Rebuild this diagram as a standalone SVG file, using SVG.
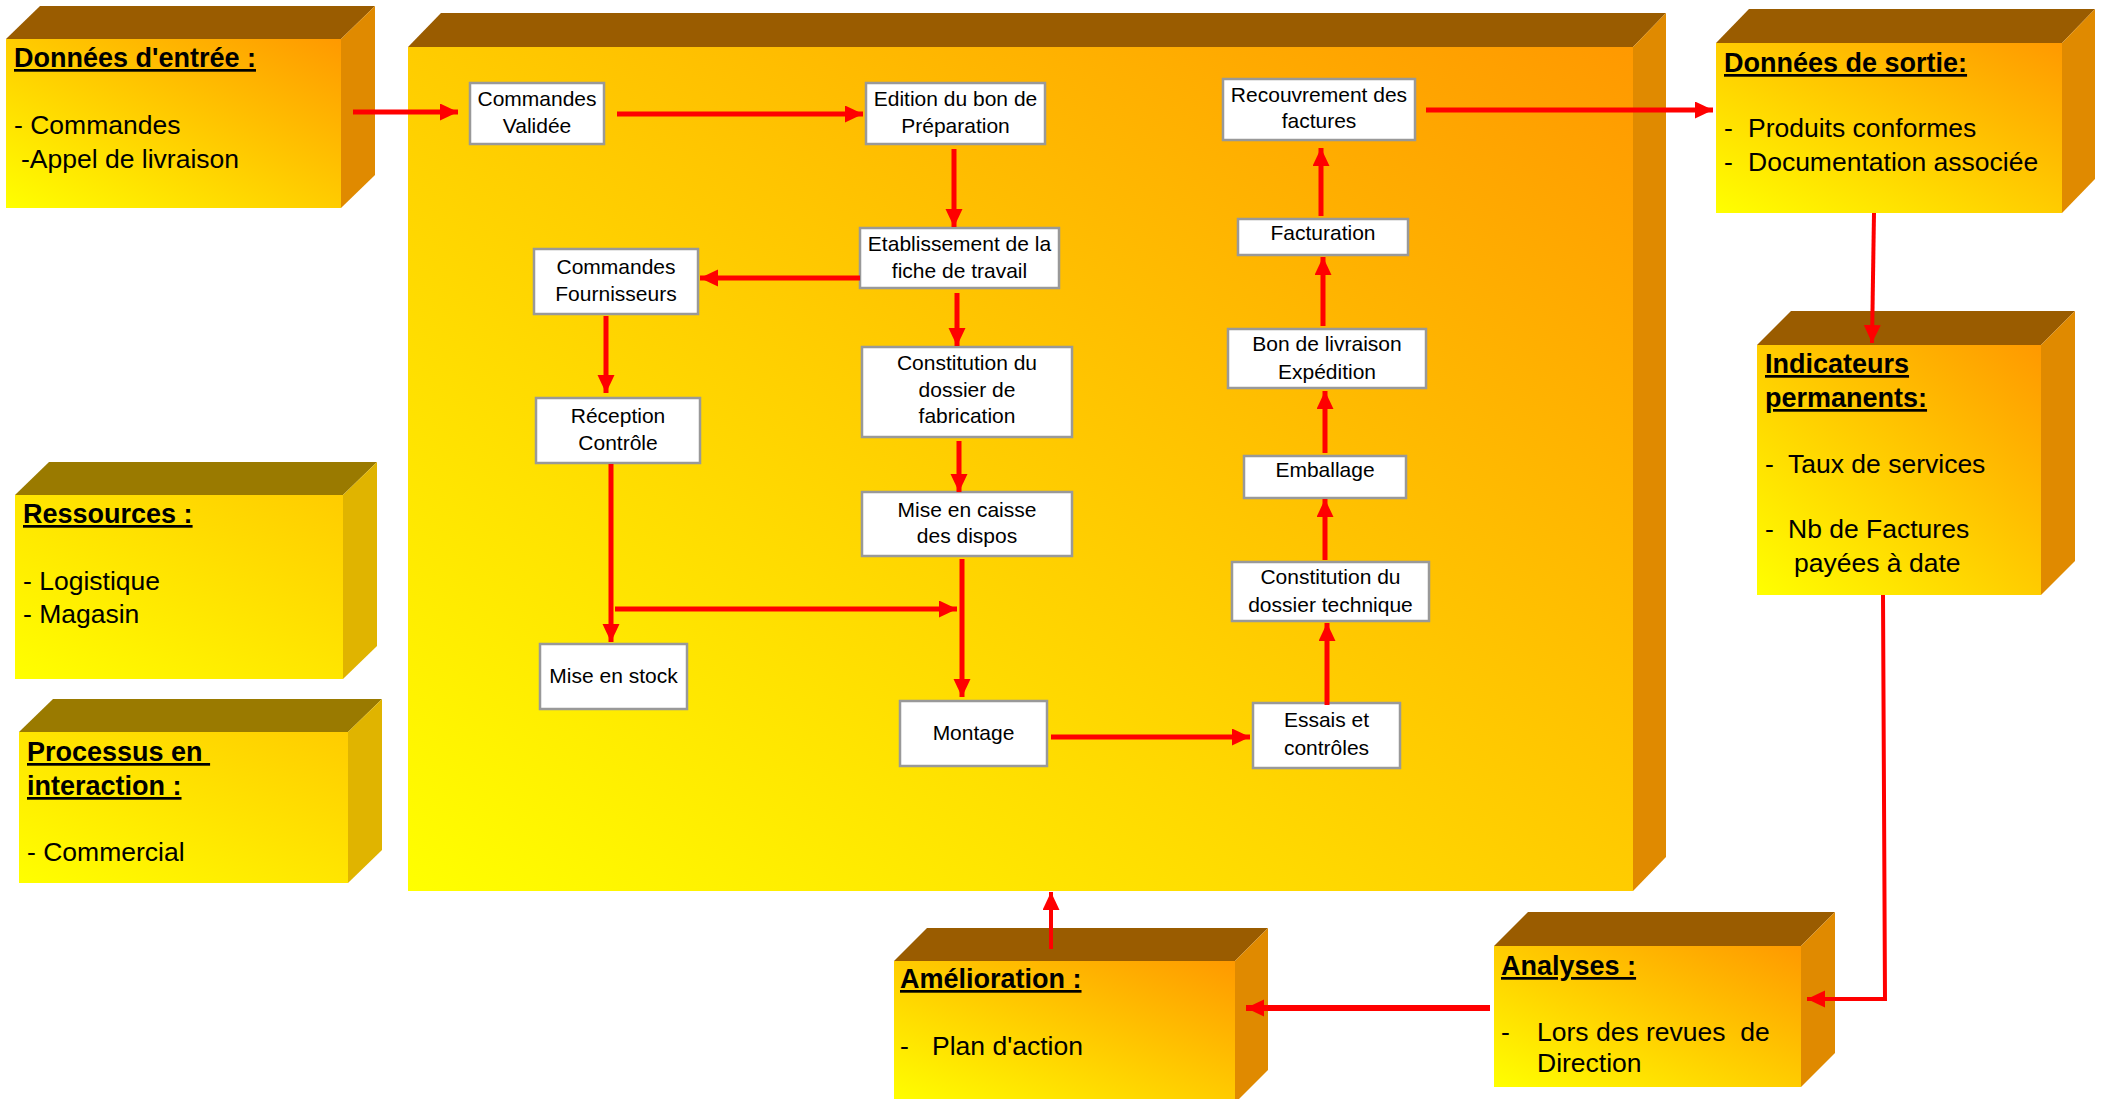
<svg xmlns="http://www.w3.org/2000/svg" width="2102" height="1099" viewBox="0 0 2102 1099">
<defs>
<linearGradient id="gO" x1="0" y1="1" x2="1" y2="0"><stop offset="0" stop-color="#FFFF00"/><stop offset="0.5" stop-color="#FFCC00"/><stop offset="1" stop-color="#FF9900"/></linearGradient>
<linearGradient id="gY" x1="0" y1="1" x2="1" y2="0"><stop offset="0" stop-color="#FFFF00"/><stop offset="1" stop-color="#FFCC00"/></linearGradient>
<marker id="ah" markerUnits="userSpaceOnUse" markerWidth="18" markerHeight="18" refX="18" refY="8.5" orient="auto"><path d="M0,0 L18,8.5 L0,17 z" fill="#FF0000"/></marker>
</defs>
<style>
.topO{fill:#9A5C00}.sideO{fill:#E08A00}.frontO{fill:url(#gO)}
.topY{fill:#9A7A00}.sideY{fill:#E0B400}.frontY{fill:url(#gY)}
.t{font-family:"Liberation Sans",Arial,sans-serif;font-size:26.5px;fill:#000}
.h{font-weight:bold;text-decoration:underline;font-size:27px}
.nb{fill:#fff;stroke:#999;stroke-width:2.5}
.nt{font-family:"Liberation Sans",Arial,sans-serif;font-size:21px;fill:#000;text-anchor:middle}
.c{fill:none;stroke:#FF0000;stroke-width:5;marker-end:url(#ah)}
</style>

<g id="main-process">
<polygon class="topO" points="408,47 441,13 1666,13 1633,47"/>
<polygon class="sideO" points="1633,47 1666,13 1666,857 1633,891"/>
<rect class="frontO" x="408" y="47" width="1225" height="844"/>
</g>

<g id="donnees-entree">
<polygon class="topO" points="6,39 40,6 375,6 341,39"/>
<polygon class="sideO" points="341,39 375,6 375,175 341,208"/>
<rect class="frontO" x="6" y="39" width="335" height="169"/>
<text class="t h" x="14" y="67">Données d'entrée :</text>
<text class="t" x="14" y="134">- Commandes</text>
<text class="t" x="21" y="168">-Appel de livraison</text>
</g>

<g id="donnees-sortie">
<polygon class="topO" points="1716,43 1749,9 2095,9 2062,43"/>
<polygon class="sideO" points="2062,43 2095,9 2095,179 2062,213"/>
<rect class="frontO" x="1716" y="43" width="346" height="170"/>
<text class="t h" x="1724" y="72">Données de sortie:</text>
<text class="t" x="1724" y="137">-<tspan x="1748">Produits conformes</tspan></text>
<text class="t" x="1724" y="171">-<tspan x="1748">Documentation associée</tspan></text>
</g>

<g id="indicateurs">
<polygon class="topO" points="1757,345 1791,311 2075,311 2041,345"/>
<polygon class="sideO" points="2041,345 2075,311 2075,561 2041,595"/>
<rect class="frontO" x="1757" y="345" width="284" height="250"/>
<text class="t h" x="1765" y="373">Indicateurs </text>
<text class="t h" x="1765" y="407">permanents:</text>
<text class="t" x="1765" y="473">-<tspan x="1788">Taux de services</tspan></text>
<text class="t" x="1765" y="538">-<tspan x="1788">Nb de Factures</tspan></text>
<text class="t" x="1794" y="572">payées à date</text>
</g>

<g id="ressources">
<polygon class="topY" points="15,495 49,462 377,462 343,495"/>
<polygon class="sideY" points="343,495 377,462 377,646 343,679"/>
<rect class="frontY" x="15" y="495" width="328" height="184"/>
<text class="t h" x="23" y="523">Ressources :</text>
<text class="t" x="23" y="590">- Logistique</text>
<text class="t" x="23" y="623">- Magasin</text>
</g>

<g id="processus-interaction">
<polygon class="topY" points="19,732 53,699 382,699 348,732"/>
<polygon class="sideY" points="348,732 382,699 382,850 348,883"/>
<rect class="frontY" x="19" y="732" width="329" height="151"/>
<text class="t h" x="27" y="761" xml:space="preserve">Processus en </text>
<text class="t h" x="27" y="795">interaction :</text>
<text class="t" x="27" y="861">- Commercial</text>
</g>

<g id="amelioration">
<polygon class="topO" points="894,961 927,928 1268,928 1235,961"/>
<polygon class="sideO" points="1235,961 1268,928 1268,1070 1235,1103"/>
<rect class="frontO" x="894" y="961" width="341" height="142"/>
<text class="t h" x="900" y="988">Amélioration :</text>
<text class="t" x="900" y="1055">-<tspan x="932">Plan d'action</tspan></text>
</g>

<g id="analyses">
<polygon class="topO" points="1494,946 1528,912 1835,912 1801,946"/>
<polygon class="sideO" points="1801,946 1835,912 1835,1053 1801,1087"/>
<rect class="frontO" x="1494" y="946" width="307" height="141"/>
<text class="t h" x="1501" y="975">Analyses :</text>
<text class="t" x="1501" y="1041" xml:space="preserve">-<tspan x="1537">Lors des revues  de</tspan></text>
<text class="t" x="1537" y="1072">Direction</text>
</g>

<g id="n-commandes-validee"><rect class="nb" x="470" y="83" width="134" height="61"/><text class="nt" x="537" y="106">Commandes</text><text class="nt" x="537" y="133">Validée</text></g>
<g id="n-edition"><rect class="nb" x="866" y="83" width="179" height="61"/><text class="nt" x="955.5" y="106">Edition du bon de</text><text class="nt" x="955.5" y="133">Préparation</text></g>
<g id="n-etablissement"><rect class="nb" x="860" y="228" width="199" height="60"/><text class="nt" x="959.5" y="251">Etablissement de la</text><text class="nt" x="959.5" y="278">fiche de travail</text></g>
<g id="n-commandes-fournisseurs"><rect class="nb" x="534" y="249" width="164" height="65"/><text class="nt" x="616" y="274">Commandes</text><text class="nt" x="616" y="301">Fournisseurs</text></g>
<g id="n-reception"><rect class="nb" x="536" y="398" width="164" height="65"/><text class="nt" x="618" y="423">Réception</text><text class="nt" x="618" y="450">Contrôle</text></g>
<g id="n-constitution-fabrication"><rect class="nb" x="862" y="347" width="210" height="90"/><text class="nt" x="967" y="370">Constitution du</text><text class="nt" x="967" y="397">dossier de</text><text class="nt" x="967" y="423">fabrication</text></g>
<g id="n-mise-en-caisse"><rect class="nb" x="862" y="492" width="210" height="64"/><text class="nt" x="967" y="517">Mise en caisse</text><text class="nt" x="967" y="543">des dispos</text></g>
<g id="n-mise-en-stock"><rect class="nb" x="540" y="644" width="147" height="65"/><text class="nt" x="613.5" y="683">Mise en stock</text></g>
<g id="n-montage"><rect class="nb" x="900" y="701" width="147" height="65"/><text class="nt" x="973.5" y="740">Montage</text></g>
<g id="n-recouvrement"><rect class="nb" x="1223" y="79" width="192" height="61"/><text class="nt" x="1319" y="102">Recouvrement des</text><text class="nt" x="1319" y="128">factures</text></g>
<g id="n-facturation"><rect class="nb" x="1238" y="219" width="170" height="36"/><text class="nt" x="1323" y="240">Facturation</text></g>
<g id="n-bon-livraison"><rect class="nb" x="1228" y="329" width="198" height="59"/><text class="nt" x="1327" y="351">Bon de livraison</text><text class="nt" x="1327" y="379">Expédition</text></g>
<g id="n-emballage"><rect class="nb" x="1244" y="456" width="162" height="42"/><text class="nt" x="1325" y="477">Emballage</text></g>
<g id="n-constitution-technique"><rect class="nb" x="1232" y="562" width="197" height="59"/><text class="nt" x="1330.5" y="584">Constitution du</text><text class="nt" x="1330.5" y="612">dossier technique</text></g>
<g id="n-essais"><rect class="nb" x="1253" y="703" width="147" height="65"/><text class="nt" x="1326.5" y="727">Essais et</text><text class="nt" x="1326.5" y="755">contrôles</text></g>

<g id="connectors">
<line class="c" x1="353" y1="112" x2="458" y2="112"/>
<line class="c" x1="617" y1="114" x2="863" y2="114"/>
<line class="c" x1="954" y1="149" x2="954" y2="227"/>
<line class="c" x1="860" y1="278" x2="700" y2="278"/>
<line class="c" x1="957" y1="293" x2="957" y2="346"/>
<line class="c" x1="606" y1="316" x2="606" y2="393"/>
<line class="c" x1="959" y1="441" x2="959" y2="492"/>
<line class="c" x1="962" y1="559" x2="962" y2="697"/>
<line class="c" x1="611" y1="464" x2="611" y2="642"/>
<line class="c" x1="615" y1="609" x2="957" y2="609"/>
<line class="c" x1="1051" y1="737" x2="1250" y2="737"/>
<line class="c" x1="1327" y1="705" x2="1327" y2="623"/>
<line class="c" x1="1325" y1="560" x2="1325" y2="499"/>
<line class="c" x1="1325" y1="453" x2="1325" y2="391"/>
<line class="c" x1="1323" y1="326" x2="1323" y2="257"/>
<line class="c" x1="1321" y1="216" x2="1321" y2="148"/>
<line class="c" x1="1426" y1="110" x2="1713" y2="110"/>
<line class="c" style="stroke-width:4" x1="1874" y1="213" x2="1872" y2="343"/>
<polyline class="c" style="stroke-width:4" points="1883,595 1885,999 1807,999"/>
<line class="c" style="stroke-width:6" x1="1490" y1="1008" x2="1246" y2="1008"/>
<line class="c" style="stroke-width:4" x1="1051" y1="949" x2="1051" y2="892"/>
</g>
</svg>
